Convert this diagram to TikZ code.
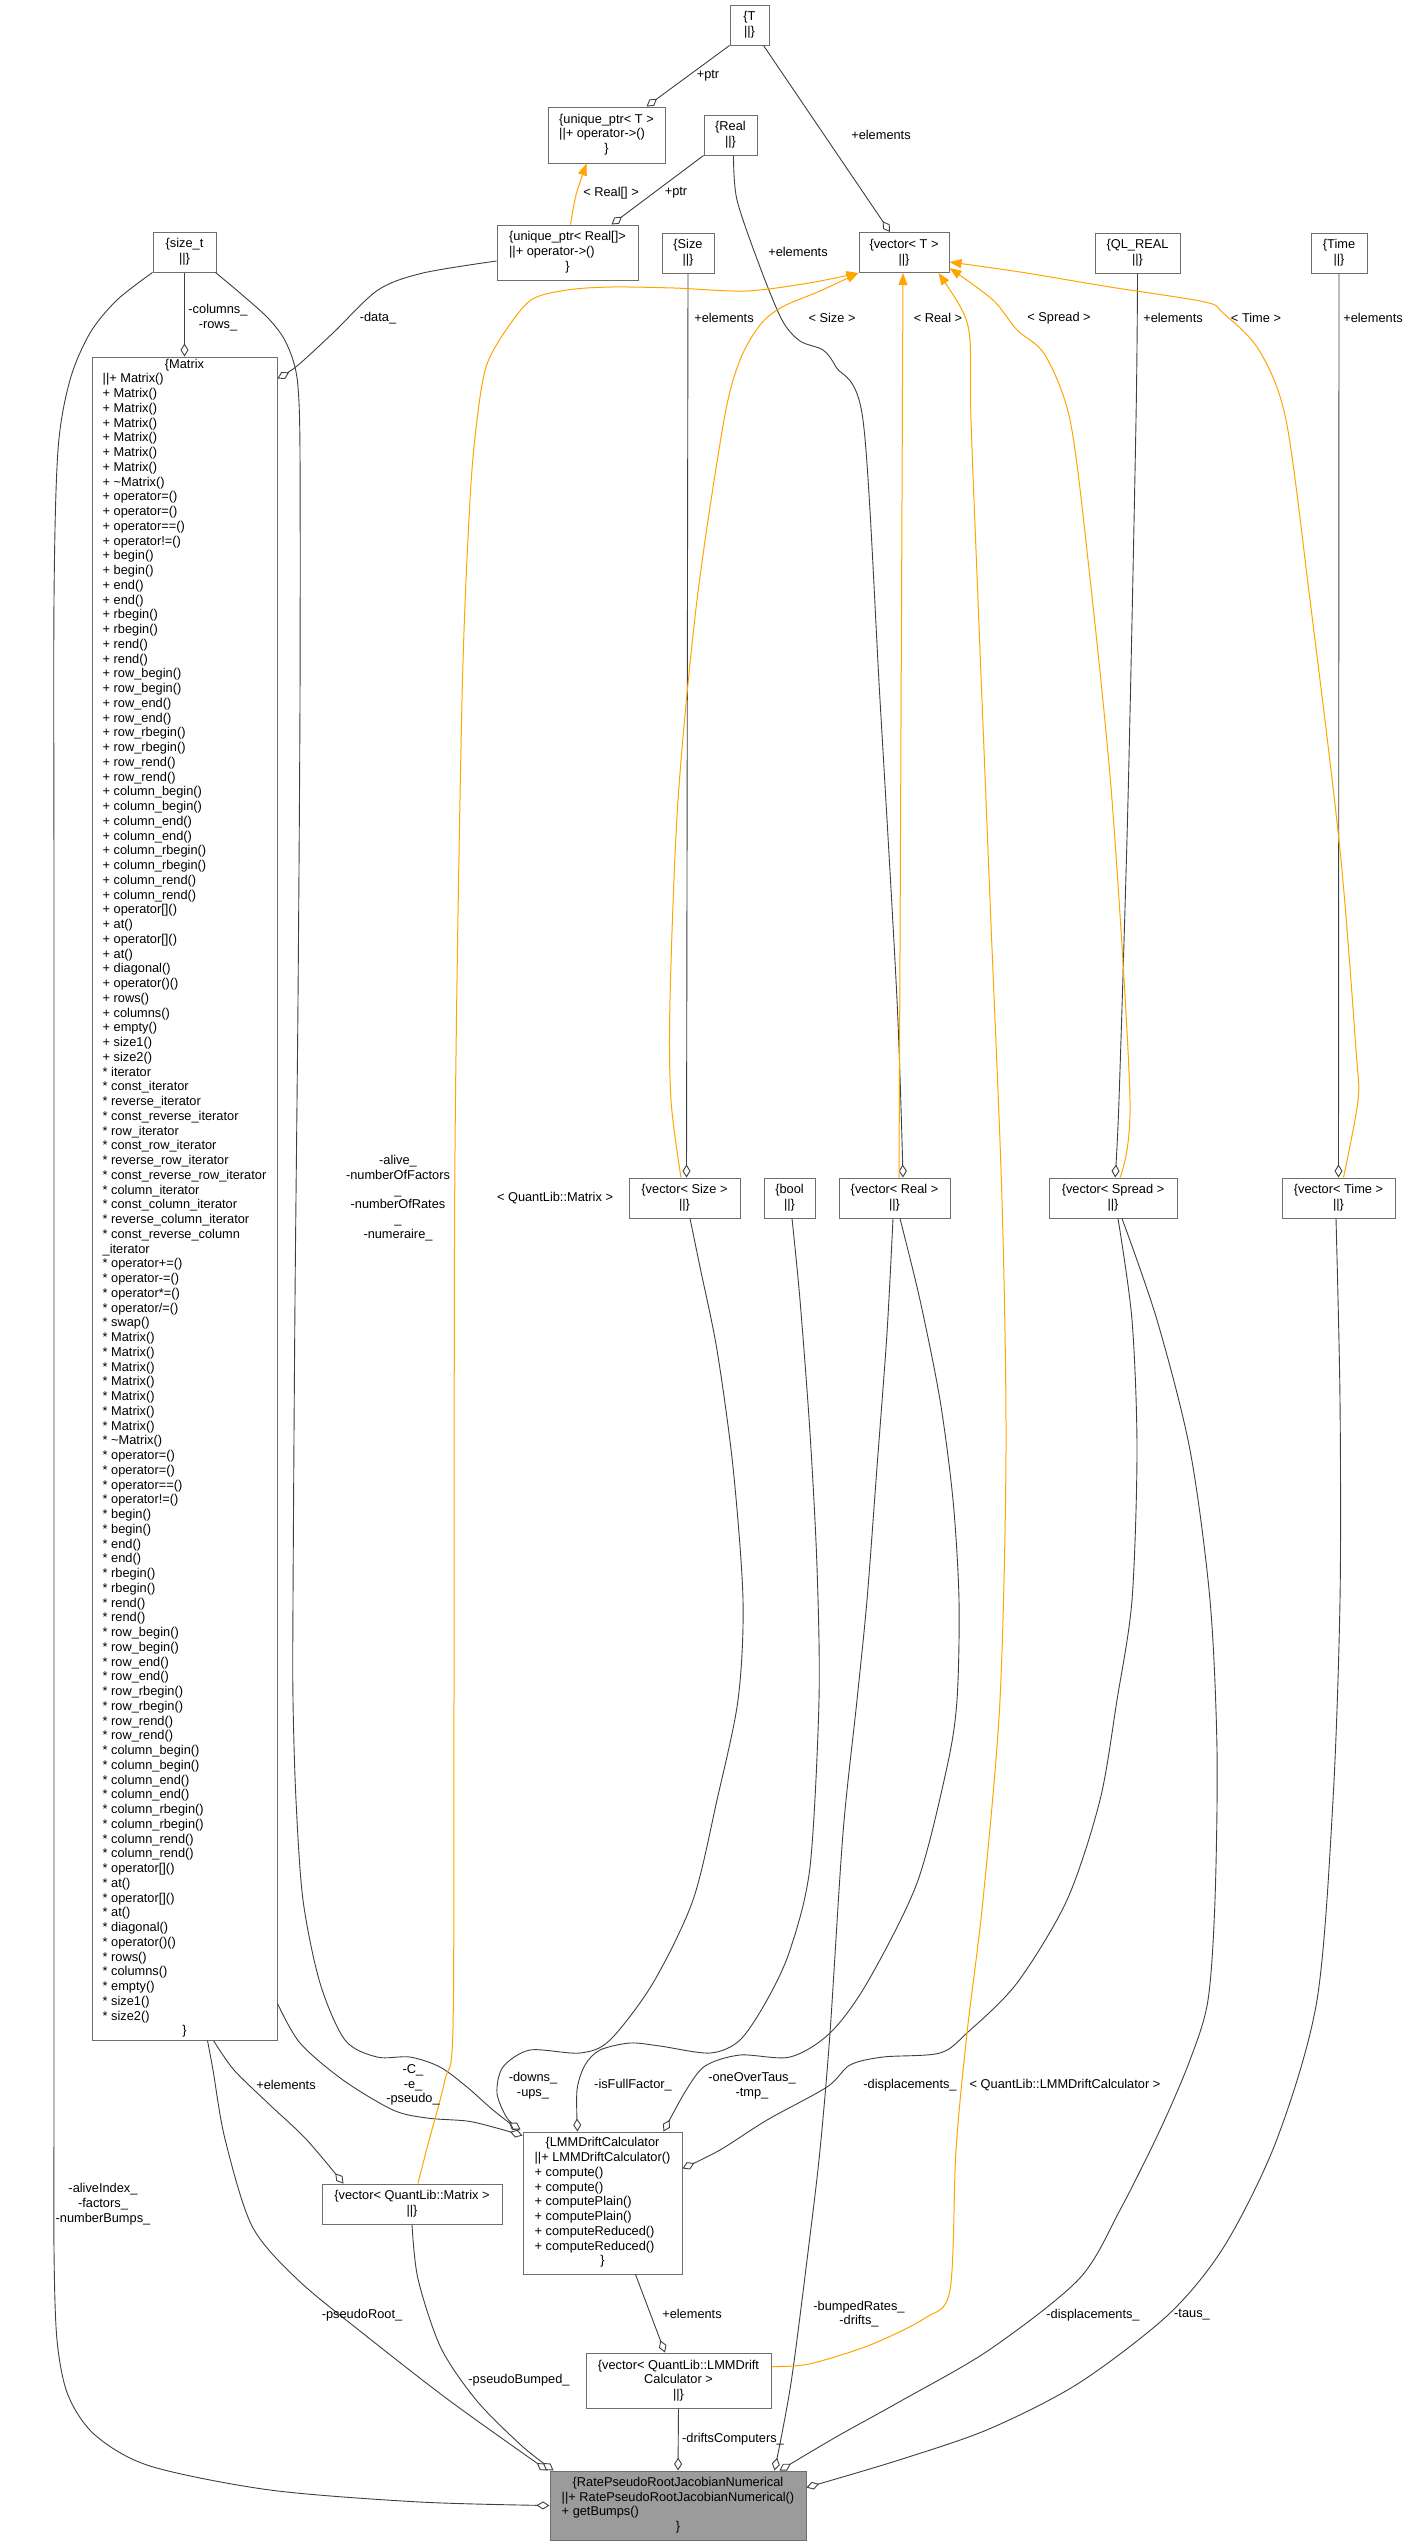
\documentclass[tikz,border=0pt]{standalone}
\usepackage{fontspec}
\setmainfont{Liberation Sans}
\usetikzlibrary{arrows.meta,calc}
\definecolor{edgegray}{HTML}{404040}
\definecolor{boxgray}{HTML}{6E6E6E}
\definecolor{tmplorange}{HTML}{FFA500}
\definecolor{rprfill}{HTML}{9B9B9B}
\newcommand{\hl}[1]{\multicolumn{1}{@{}c@{}}{#1}}
\newcommand{\twice}[1]{#1\\#1}
\tikzset{
  txt/.style={font=\fontsize{12.8}{14.75}\selectfont},
  box/.style={txt, draw=boxgray, line width=1pt, fill=white, inner sep=0pt},
  sbox/.style={box, align=center},
  lbl/.style={txt, inner sep=0pt, align=center},
  agg/.style={draw=edgegray, line width=0.9pt, -{Diamond[length=13pt,width=8pt,fill=white,line width=0.9pt]}},
  tmpl/.style={draw=tmplorange, line width=1pt, -{Triangle[length=12pt,width=9pt]}}
}
\begin{document}
\begin{tikzpicture}[x=1pt,y=-1pt]
\fill[white] (0,0) rectangle (1403,2544);
\useasboundingbox (0,0) rectangle (1403,2544);

% ---------- nodes ----------
\node[sbox, minimum width=39pt, minimum height=40pt] (T) at (749.5,25) {\{T\\||\}};
\node[box, minimum width=117pt, minimum height=56pt] (uptrT) at (606.5,135)
  {\begin{tabular}{@{}l@{}}\{unique\_ptr< T >\\||+ operator->()\\\hl{\}}\end{tabular}};
\node[sbox, minimum width=53pt, minimum height=40pt] (Real) at (730.5,135) {\{Real\\||\}};
\node[box, minimum width=141pt, minimum height=55pt] (uptrReal) at (567.5,252.5)
  {\begin{tabular}{@{}l@{}}\{unique\_ptr< Real[]>\\||+ operator->()\\\hl{\}}\end{tabular}};
\node[sbox, minimum width=63pt, minimum height=40pt] (sizet) at (184.5,252) {\{size\_t\\||\}};
\node[sbox, minimum width=52pt, minimum height=40pt] (Size) at (688,253) {\{Size\\||\}};
\node[sbox, minimum width=90pt, minimum height=40pt] (vecT) at (904,252.5) {\{vector< T >\\||\}};
\node[sbox, minimum width=85pt, minimum height=40pt] (QLREAL) at (1137.5,253) {\{QL\_REAL\\||\}};
\node[sbox, minimum width=56pt, minimum height=40pt] (Time) at (1339,253) {\{Time\\||\}};

\node[box, minimum width=185pt, minimum height=1683pt] (Matrix) at (184.5,1198.5)
{\begin{tabular}{@{}l@{}}
\hl{\{Matrix}\\
||+ Matrix()\\
+ Matrix()\\+ Matrix()\\+ Matrix()\\+ Matrix()\\+ Matrix()\\+ Matrix()\\
+ \textasciitilde Matrix()\\
\twice{+ operator=()}\\
+ operator==()\\
+ operator!=()\\
\twice{+ begin()}\\
\twice{+ end()}\\
\twice{+ rbegin()}\\
\twice{+ rend()}\\
\twice{+ row\_begin()}\\
\twice{+ row\_end()}\\
\twice{+ row\_rbegin()}\\
\twice{+ row\_rend()}\\
\twice{+ column\_begin()}\\
\twice{+ column\_end()}\\
\twice{+ column\_rbegin()}\\
\twice{+ column\_rend()}\\
+ operator[]()\\
+ at()\\
+ operator[]()\\
+ at()\\
+ diagonal()\\
+ operator()()\\
+ rows()\\
+ columns()\\
+ empty()\\
+ size1()\\
+ size2()\\
{*} iterator\\
{*} const\_iterator\\
{*} reverse\_iterator\\
{*} const\_reverse\_iterator\\
{*} row\_iterator\\
{*} const\_row\_iterator\\
{*} reverse\_row\_iterator\\
{*} const\_reverse\_row\_iterator\\
{*} column\_iterator\\
{*} const\_column\_iterator\\
{*} reverse\_column\_iterator\\
{*} const\_reverse\_column\\
\_iterator\\
{*} operator+=()\\
{*} operator-=()\\
{*} operator*=()\\
{*} operator/=()\\
{*} swap()\\
{*} Matrix()\\{*} Matrix()\\{*} Matrix()\\{*} Matrix()\\{*} Matrix()\\{*} Matrix()\\{*} Matrix()\\
{*} \textasciitilde Matrix()\\
\twice{{*} operator=()}\\
{*} operator==()\\
{*} operator!=()\\
\twice{{*} begin()}\\
\twice{{*} end()}\\
\twice{{*} rbegin()}\\
\twice{{*} rend()}\\
\twice{{*} row\_begin()}\\
\twice{{*} row\_end()}\\
\twice{{*} row\_rbegin()}\\
\twice{{*} row\_rend()}\\
\twice{{*} column\_begin()}\\
\twice{{*} column\_end()}\\
\twice{{*} column\_rbegin()}\\
\twice{{*} column\_rend()}\\
{*} operator[]()\\
{*} at()\\
{*} operator[]()\\
{*} at()\\
{*} diagonal()\\
{*} operator()()\\
{*} rows()\\
{*} columns()\\
{*} empty()\\
{*} size1()\\
{*} size2()\\
\hl{\}}
\end{tabular}};

\node[sbox, minimum width=111pt, minimum height=40pt] (vecSize) at (684.5,1198) {\{vector< Size >\\||\}};
\node[sbox, minimum width=51pt, minimum height=40pt] (bool) at (789.5,1198) {\{bool\\||\}};
\node[sbox, minimum width=111pt, minimum height=40pt] (vecReal) at (894.5,1198) {\{vector< Real >\\||\}};
\node[sbox, minimum width=128pt, minimum height=40pt] (vecSpread) at (1113,1198) {\{vector< Spread >\\||\}};
\node[sbox, minimum width=113pt, minimum height=40pt] (vecTime) at (1338.5,1198) {\{vector< Time >\\||\}};

\node[sbox, minimum width=180pt, minimum height=40pt] (vecMatrix) at (412,2204) {\{vector< QuantLib::Matrix >\\||\}};
\node[box, minimum width=159pt, minimum height=142pt] (lmm) at (602.5,2203)
{\begin{tabular}{@{}l@{}}
\hl{\{LMMDriftCalculator}\\
||+ LMMDriftCalculator()\\
+ compute()\\
+ compute()\\
+ computePlain()\\
+ computePlain()\\
+ computeReduced()\\
+ computeReduced()\\
\hl{\}}
\end{tabular}};
\node[sbox, minimum width=185pt, minimum height=55pt] (vecLMM) at (678.5,2380.5)
  {\{vector< QuantLib::LMMDrift\\Calculator >\\||\}};
\node[box, fill=rprfill, minimum width=256pt, minimum height=69pt] (rpr) at (678,2505.5)
{\begin{tabular}{@{}l@{}}
\hl{\{RatePseudoRootJacobianNumerical}\\
||+ RatePseudoRootJacobianNumerical()\\
+ getBumps()\\
\hl{\}}
\end{tabular}};

% ---------- gray (member) edges ----------
\draw[agg] (T.south west) -- ($(uptrT.north east)+(-19,0)$);
\draw[agg] ($(T.south east)+(-6,0)$) -- ($(vecT.north)+(-14,0)$);
\draw[agg] (Real.south west) -- ($(uptrReal.north east)+(-27,0)$);
\draw[agg] plot[smooth] coordinates {($(Real.south)+(3,0)$) (737,200) (760,267) (782,320) (800,341) (823,350) (836,367) (863,420) (880,700) (897,1000) ($(vecReal.north)+(8.5,0)$)};
\draw[agg] plot[smooth] coordinates {($(uptrReal.west)+(0,8.5)$) (423,273) (378,290) (333,333) (297,366) ($(Matrix.north east)+(0,22)$)};
\draw[agg] (sizet.south) -- (Matrix.north);
\draw[agg] plot[smooth] coordinates {($(sizet.south east)+(-1,0)$) (240,293) (267,317) (283,337) (293,360) (298,387) (300,453) (300,700) (298,1000) (295,1300) (293,1600) (293,1700) (296,1800) (303,1900) (320,1983) (345,2040) (377,2057) (410,2057) (440,2067) (467,2087) (493,2110) ($(lmm.north west)+(-3,-1)$)};
\draw[agg] plot[smooth] coordinates {(sizet.south west) (117,300) (90,333) (70,380) (58,450) (54,600) (54,900) (54,1300) (54,1700) (54,2100) (54,2250) (57,2340) (68,2395) (95,2435) (150,2466) (270,2490) (420,2502) (rpr.west)};
\draw[agg] plot[smooth] coordinates {($(Matrix.south east)+(0,-37)$) (300,2043) (343,2080) (393,2110) (427,2118) (467,2121) (493,2127) ($(lmm.north west)+(0,4)$)};
\draw[agg] plot[smooth] coordinates {($(Matrix.south)+(29,0)$) (234,2070) (270,2105) (306,2139) ($(vecMatrix.north west)+(22,0)$)};
\draw[agg] plot[smooth] coordinates {($(Matrix.south)+(23,0)$) (213,2070) (225,2139) (252,2226) (297,2279) (360,2331) (450,2401) ($(rpr.north west)+(-2,0)$)};
\draw[agg] plot[smooth] coordinates {(vecMatrix.south) (418,2279) (441,2348) (477,2401) (522,2446) ($(rpr.north west)+(4,0)$)};
\draw[agg] plot[smooth] coordinates {($(vecSize.south)+(5.5,0)$) (700,1267) (717,1350) (733,1467) (743,1600) (738,1700) (717,1800) (693,1900) (653,1983) (610,2040) (580,2053) (530,2050) (503,2067) (497,2093) (507,2118) ($(lmm.north west)+(-2,-2)$)};
\draw[agg] plot[smooth] coordinates {($(bool.south)+(2.5,0)$) (800,1300) (810,1433) (817,1567) (819,1700) (810,1867) (790,1950) (767,2000) (740,2040) (710,2053) (660,2046) (630,2043) (600,2050) (585,2065) (577,2090) ($(lmm.north)+(-25,0)$)};
\draw[agg] plot[smooth] coordinates {($(vecReal.south)+(5.5,0)$) (920,1300) (940,1400) (953,1500) (959,1600) (957,1700) (947,1767) (917,1883) (867,1983) (830,2033) (790,2057) (740,2055) (705,2066) (685,2092) ($(lmm.north east)+(-19,0)$)};
\draw[agg] plot[smooth] coordinates {($(vecReal.south)+(-1.5,0)$) (887,1333) (877,1467) (867,1600) (857,1700) (843,1833) (830,2033) (820,2150) (809,2244) (791,2383) ($(rpr.north east)+(-32,0)$)};
\draw[agg] plot[smooth] coordinates {($(vecSpread.south)+(5,0)$) (1132,1320) (1137,1450) (1132,1600) (1117,1700) (1100,1800) (1067,1900) (1017,1983) (968,2032) (940,2053) (883,2057) (850,2065) (827,2087) (767,2120) (720,2150) ($(lmm.north east)+(0,37)$)};
\draw[agg] plot[smooth] coordinates {($(vecSpread.south)+(9,0)$) (1157,1320) (1190,1450) (1210,1600) (1217,1750) (1215,1900) (1208,2000) (1190,2060) (1160,2130) (1120,2210) (1079,2279) (989,2350) (899,2402) (836,2437) ($(rpr.north east)+(-27,0)$)};
\draw[agg] plot[smooth] coordinates {($(vecTime.south)+(-2.5,0)$) (1340,1400) (1340,1600) (1333,1800) (1317,2000) (1277,2139) (1225,2245) (1169,2314) (1079,2383) (989,2429) (899,2460) ($(rpr.north east)+(0,17)$)};
\draw[agg] (vecLMM.south) -- (rpr.north);
\draw[agg] ($(lmm.south)+(33,0)$) -- ($(vecLMM.north)+(-13.5,0)$);
\draw[agg] (Size.south) -- ($(vecSize.north)+(2,0)$);
\draw[agg] plot[smooth] coordinates {(QLREAL.south) (1136,420) (1128,800) (1119,1100) ($(vecSpread.north)+(2,0)$)};
\draw[agg] (Time.south) -- (vecTime.north);

% ---------- orange (template) edges ----------
\draw[tmpl] plot[smooth] coordinates {($(uptrReal.north)+(3,0)$) (576,195) ($(uptrT.south)+(-20,0)$)};
\draw[tmpl] plot[smooth] coordinates {($(vecSize.north)+(-3.5,0)$) (671,1100) (670,1000) (678,800) (697,600) (724,420) (740,360) (760,325) (782,307) (820,291) (vecT.south west)};
\draw[tmpl] plot[smooth] coordinates {($(vecMatrix.north)+(6,0)$) (427,2148) (445,2080) (453,2027) (454,1700) (455,1150) (462,700) (470,500) (477,420) (486,367) (504,333) (531,300) (567,290) (611,287) (674,288) (746,291) (809,283) (vecT.south west)};
\draw[tmpl] ($(vecReal.north)+(4.5,0)$) -- ($(vecT.south)+(-1,0)$);
\draw[tmpl] plot[smooth] coordinates {($(vecLMM.north east)+(0,14)$) (809,2364) (870,2345) (925,2318) (950,2290) (956,2150) (967,2033) (983,1900) (1000,1700) (1006,1450) (1002,1200) (990,900) (978,600) (971,420) (970,340) (962,310) ($(vecT.south east)+(-11,0)$)};
\draw[tmpl] plot[smooth] coordinates {($(vecSpread.north)+(7,0)$) (1130,1100) (1112,800) (1088,560) (1070,420) (1045,355) (1017,330) (993,300) ($(vecT.south east)+(0,-5)$)};
\draw[tmpl] plot[smooth] coordinates {($(vecTime.north)+(5,0)$) (1358,1100) (1356,1050) (1340,850) (1310,600) (1286,420) (1259,350) (1223,313) (1205,302) (1110,287) (1020,272) ($(vecT.south east)+(0,-11)$)};

% ---------- labels ----------
\node[lbl] (l1) at (708,76) {+ptr};
\node[lbl] (l2) at (881,135) {+elements};
\node[lbl] (l3) at (611,193) {< Real[] >};
\node[lbl] (l4) at (676,193) {+ptr};
\node[lbl] (l5) at (798,252) {+elements};
\node[lbl] (l6) at (218,318) {-columns\_\\-rows\_};
\node[lbl] (l7) at (378,318) {-data\_};
\node[lbl] (l8) at (724,318) {+elements};
\node[lbl] (l9) at (832,318) {< Size >};
\node[lbl] (l10) at (938,318) {< Real >};
\node[lbl] (l11) at (1059,318) {< Spread >};
\node[lbl] (l12) at (1173,318) {+elements};
\node[lbl] (l13) at (1256,318) {< Time >};
\node[lbl] (l14) at (1373,318) {+elements};
\node[lbl] (l15) at (398,1198) {-alive\_\\-numberOfFactors\\\_\\-numberOfRates\\\_\\-numeraire\_};
\node[lbl] (l16) at (555,1198) {< QuantLib::Matrix >};
\node[lbl] (l17) at (413,2085) {-C\_\\-e\_\\-pseudo\_};
\node[lbl] (l18) at (286,2085) {+elements};
\node[lbl] (l19) at (533,2086) {-downs\_\\-ups\_};
\node[lbl] (l20) at (633,2085) {-isFullFactor\_};
\node[lbl] (l21) at (752,2086) {-oneOverTaus\_\\-tmp\_};
\node[lbl] (l22) at (910,2085) {-displacements\_};
\node[lbl] (l23) at (1065,2085) {< QuantLib::LMMDriftCalculator >};
\node[lbl] (l24) at (103,2204) {-aliveIndex\_\\-factors\_\\-numberBumps\_};
\node[lbl] (l25) at (362,2315) {-pseudoRoot\_};
\node[lbl] (l26) at (692,2314) {+elements};
\node[lbl] (l27) at (859,2314) {-bumpedRates\_\\-drifts\_};
\node[lbl] (l28) at (1093,2315) {-displacements\_};
\node[lbl] (l29) at (1192,2315) {-taus\_};
\node[lbl] (l30) at (519,2380) {-pseudoBumped\_};
\node[lbl] (l31) at (733,2439) {-driftsComputers\_};
\end{tikzpicture}
\end{document}
